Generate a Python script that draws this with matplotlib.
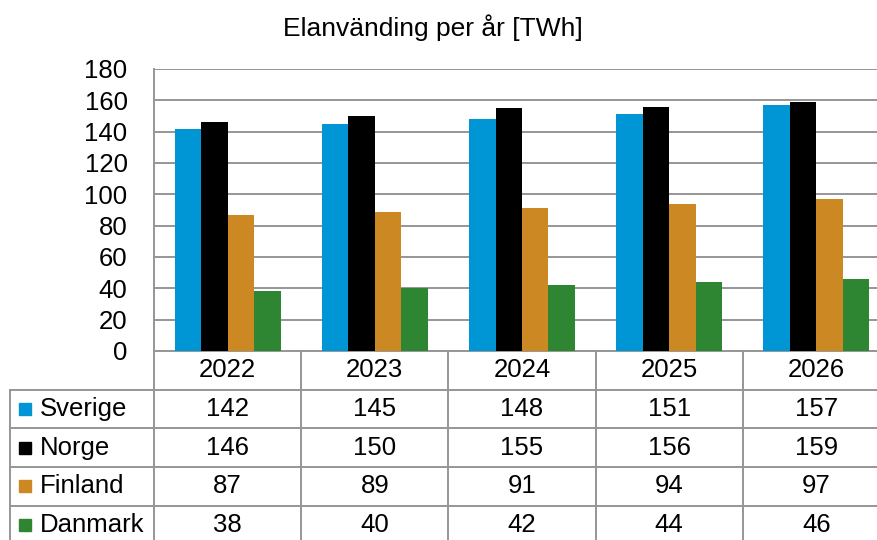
import matplotlib
matplotlib.use("Agg")
import matplotlib.pyplot as plt
import matplotlib.transforms as mtransforms
import numpy as np

plt.rcParams['font.family'] = ['Liberation Sans', 'DejaVu Sans']

title = "Elanvänding per år [TWh]"
years = ["2022", "2023", "2024", "2025", "2026"]
series_names = ["Sverige", "Norge", "Finland", "Danmark"]
sverige = [142, 145, 148, 151, 157]
norge = [146, 150, 155, 156, 159]
finland = [87, 89, 91, 94, 97]
danmark = [38, 40, 42, 44, 46]
colors = ["#0096D6", "#000000", "#CC8822", "#2E8632"]
yticks = [0, 20, 40, 60, 80, 100, 120, 140, 160, 180]

series = [sverige, norge, finland, danmark]

W, H = 877, 540
fig = plt.figure(figsize=(W / 100, H / 100), dpi=100)
left_px, right_px, top_px, bottom_px = 154, 890, 69, 351
ax = fig.add_axes([left_px / W, 1 - bottom_px / H,
                   (right_px - left_px) / W, (bottom_px - top_px) / H])

grid_col = "#969696"
fs = 18.5
x = np.arange(len(years))
bw = 0.18
offsets = (np.arange(len(series)) - 1.5) * bw
for s, name, c, off in zip(series, series_names, colors, offsets):
    ax.bar(x + off, s, width=bw, color=c, zorder=3, linewidth=0)

ax.set_xlim(-0.5, len(years) - 0.5)
ax.set_ylim(0, 180)
ax.set_yticks(yticks)
ax.set_yticklabels([str(v) for v in yticks], fontsize=fs)
ax.tick_params(axis='y', length=0, pad=19)
ax.set_xticks([])
ax.yaxis.grid(True, color=grid_col, linewidth=1.4, zorder=0)
for sp in ["top", "right", "bottom"]:
    ax.spines[sp].set_visible(False)
ax.spines["left"].set_color(grid_col)
ax.spines["left"].set_linewidth(1.4)

fig.text(433 / W, 1 - 28 / H, title, ha='center', va='center', fontsize=19)

# data table below the axes
trans = mtransforms.blended_transform_factory(ax.transData, ax.transAxes)
row_h = 38.7 / (bottom_px - top_px)
n_rows = len(series) + 1
label_left = -0.5 - (left_px - 10) / ((right_px - left_px) / len(years))
line_kw = dict(color=grid_col, linewidth=1.4, transform=trans, clip_on=False)

# horizontal lines
ax.plot([-0.5, len(years) - 0.5], [0, 0], **line_kw)
for r in range(1, n_rows + 1):
    yy = -r * row_h
    ax.plot([label_left, len(years) - 0.5], [yy, yy], **line_kw)
# vertical lines
for b in range(len(years) + 1):
    xb = b - 0.5
    ax.plot([xb, xb], [0, -n_rows * row_h], **line_kw)
ax.plot([label_left, label_left], [-row_h, -n_rows * row_h], **line_kw)

# header
for i, yr in enumerate(years):
    ax.text(i, -0.5 * row_h, yr, ha='center', va='center', fontsize=fs,
            transform=trans, clip_on=False)
# rows
for r, (s, name, c) in enumerate(zip(series, series_names, colors)):
    yc = -(r + 1.5) * row_h
    for i, v in enumerate(s):
        ax.text(i, yc, str(v), ha='center', va='center', fontsize=fs,
                transform=trans, clip_on=False)
    ax.plot([label_left + 0.105], [yc], marker='s', markersize=8.5, color=c,
            transform=trans, clip_on=False, linestyle='none')
    ax.text(label_left + 0.2, yc, name, ha='left', va='center', fontsize=fs,
            transform=trans, clip_on=False)

fig.savefig("out.png", dpi=100)
